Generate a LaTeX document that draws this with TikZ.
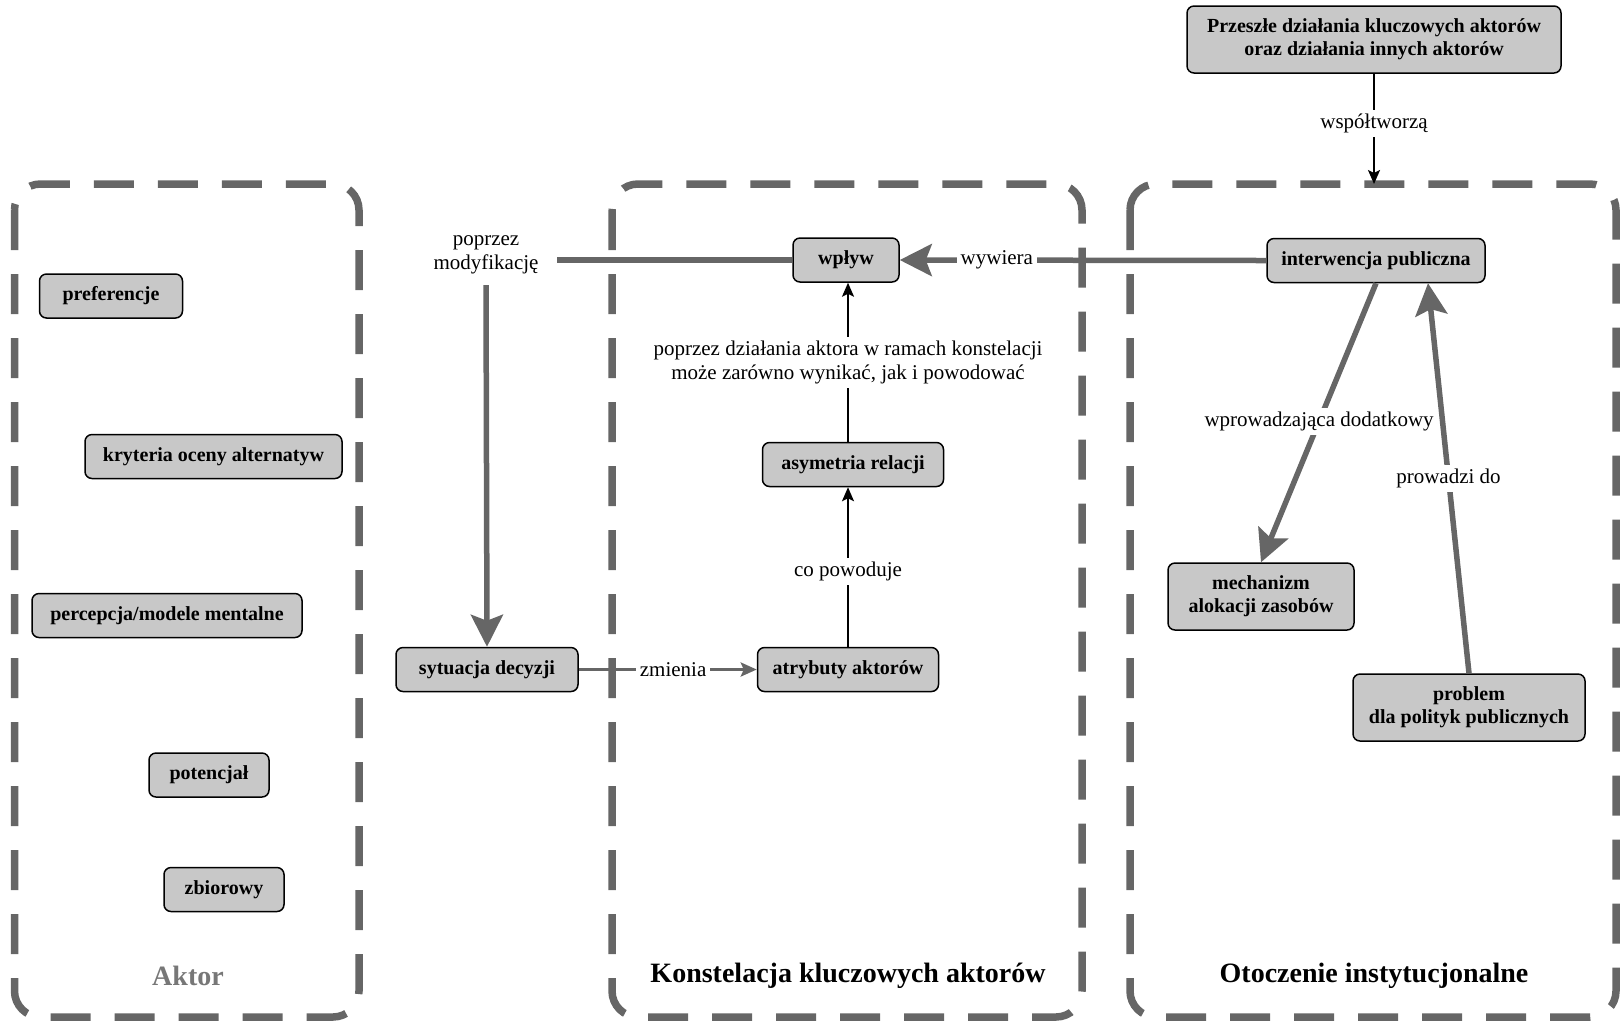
\documentclass[tikz,border=0pt]{standalone}
\usepackage{fontspec}
\setmainfont{Liberation Serif}
\usetikzlibrary{arrows.meta,calc}
\definecolor{lgray}{HTML}{C8C8C8}
\definecolor{dgray}{HTML}{666666}
\definecolor{tgray}{HTML}{777777}
\begin{document}
\begin{tikzpicture}[x=0.5pt,y=-0.5pt,
  box/.style={draw=black, line width=0.75pt, fill=lgray, rounded corners=3.5pt,
    font=\bfseries\fontsize{10}{11.5}\selectfont, align=center, inner sep=0pt, minimum height=22pt},
  tallbox/.style={box, minimum height=33.5pt},
  lab/.style={fill=white, font=\fontsize{10.5}{12}\selectfont, inner sep=2pt, align=center},
  dbox/.style={draw=dgray, line width=3.75pt, rounded corners=13pt, dash pattern=on 20pt off 12pt},
  thickarrow/.style={draw=dgray, line width=2.75pt, -{Stealth[length=16pt,width=16pt,inset=3pt]}},
  thickline/.style={draw=dgray, line width=2.75pt},
  thinarrow/.style={draw=black, line width=1pt, -{Stealth[length=7pt,width=6pt,inset=1.5pt]}},
  midarrow/.style={draw=dgray, line width=1.5pt, -{Stealth[length=8pt,width=7pt,inset=1.5pt]}},
  title/.style={font=\bfseries\fontsize{14}{16}\selectfont, inner sep=1pt}
]
\useasboundingbox (0,0) rectangle (1621,1025);

% dashed containers
\draw[dbox] (14.5,184) rectangle (359,1017);
\draw[dbox] (612,184) rectangle (1082,1017);
\draw[dbox] (1130,184) rectangle (1616,1017);

% titles
\node[title, text=tgray] (tAktor) at (188,976) {Aktor};
\node[title] (tKonst) at (848,976) {Konstelacja kluczowych aktorów};
\node[title] (tOtocz) at (1374,976) {Otoczenie instytucjonalne};

% Actor nodes
\node[box, minimum width=71.5pt] (pref) at (111,296) {preferencje};
\node[box, minimum width=128.5pt] (kryt) at (213.5,456.5) {kryteria oceny alternatyw};
\node[box, minimum width=135pt] (perc) at (167,615.5) {percepcja/modele mentalne};
\node[box, minimum width=60pt] (pot) at (209,775) {potencjał};
\node[box, minimum width=60pt] (zbi) at (224,889.5) {zbiorowy};

% constellation
\node[box, minimum width=91pt] (syt) at (487,669.5) {sytuacja decyzji};
\node[box, minimum width=90.5pt] (atr) at (848,669.5) {atrybuty aktorów};
\node[box, minimum width=90.5pt] (asy) at (853,464.5) {asymetria relacji};
\node[box, minimum width=53pt] (wpl) at (846,260) {wpływ};

% environment
\node[box, minimum width=109pt] (int) at (1376,260.5) {interwencja publiczna};
\node[tallbox, minimum width=93pt] (mech) at (1261,596.5) {mechanizm\\alokacji zasobów};
\node[tallbox, minimum width=116pt] (prob) at (1469,707.5) {problem\\dla polityk publicznych};
\node[tallbox, minimum width=187pt] (top) at (1374,39.5) {Przeszłe działania kluczowych aktorów\\oraz działania innych aktorów};

\coordinate (envtop) at (1374,184);
\coordinate (hend) at (557,260);
\coordinate (vstart) at (486,285);
\coordinate (intin) at ($(int.south)+(52,0)$);

% connectors
\draw[thinarrow] (top.south) -- node[lab, pos=0.45] {współtworzą} (envtop);
\draw[thickarrow] (int.west) -- node[lab, pos=0.735] {wywiera} (wpl.east);
\draw[thickline] (wpl.west) -- (hend);
\node[lab, inner sep=0pt] (modlab) at (486,255) {poprzez\\modyfikację};
\draw[thickarrow] (vstart) -- (syt.north);
\draw[thinarrow] (asy.north -| atr.north) -- node[lab, pos=0.5] {poprzez działania aktora w ramach konstelacji\\może zarówno wynikać, jak i powodować} (wpl.south -| atr.north);
\draw[thinarrow] (atr.north) -- node[lab, pos=0.47] {co powoduje} (asy.south -| atr.north);
\draw[midarrow] (syt.east) -- node[lab, pos=0.53] {zmienia} (atr.west);
\draw[thickarrow] (int.south) -- node[lab, pos=0.495] {wprowadzająca dodatkowy} (mech.north);
\draw[thickarrow] (prob.north) -- node[lab, pos=0.5] {prowadzi do} (intin);
\end{tikzpicture}
\end{document}
